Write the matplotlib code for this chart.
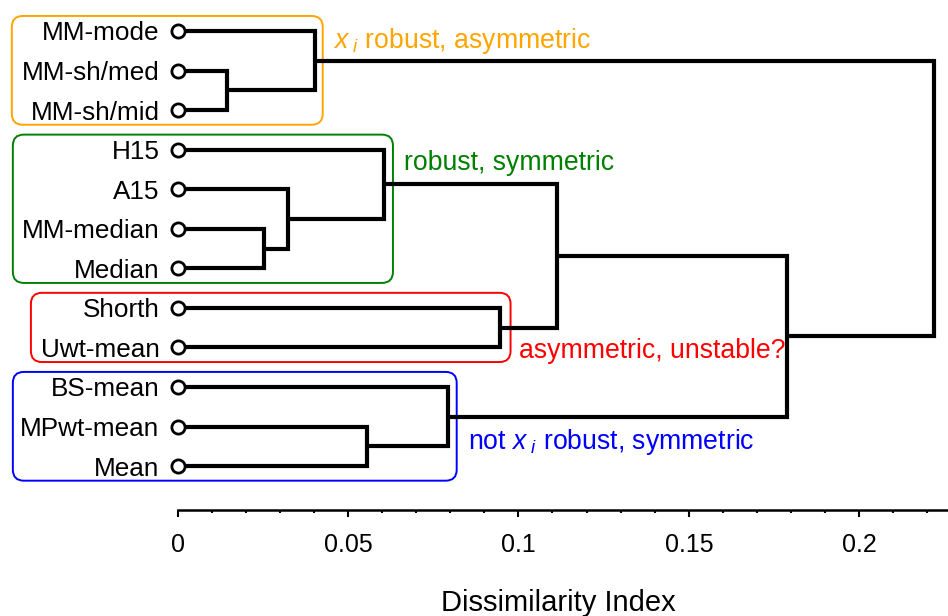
import numpy as np
import matplotlib
matplotlib.use("Agg")
import matplotlib.pyplot as plt
from matplotlib.patches import FancyBboxPatch
from matplotlib.transforms import offset_copy

plt.rcParams.update({
    "font.family": ["Liberation Sans", "DejaVu Sans"],
    "mathtext.fontset": "custom",
    "mathtext.rm": "Liberation Sans",
    "mathtext.it": "Liberation Sans:italic",
})

# leaves, top to bottom
leaves = ["MM-mode", "MM-sh/med", "MM-sh/mid", "H15", "A15", "MM-median",
          "Median", "Shorth", "Uwt-mean", "BS-mean", "MPwt-mean", "Mean"]

# merges: (child a, child b, height); new nodes numbered from len(leaves)
merge_a = [1, 0, 5, 4, 3, 10, 9, 7, 16, 20, 13]
merge_b = [2, 12, 6, 14, 15, 11, 17, 8, 19, 18, 21]
merge_h = [0.0144, 0.0403, 0.0254, 0.0325, 0.0606, 0.0555,
           0.0794, 0.0946, 0.1112, 0.1787, 0.2219]

# groups: first leaf, last leaf, box x-range, label
group_first = [0, 3, 7, 9]
group_last = [2, 6, 8, 11]
group_x0 = [-0.0486, -0.0483, -0.0430, -0.0483]
group_x1 = [0.0426, 0.0632, 0.0977, 0.0819]
group_colors = ["#FFA500", "#008000", "#FF0000", "#0000FF"]
group_labels = [r"$x_{\ i}$ robust, asymmetric", "robust, symmetric",
                "asymmetric, unstable?", r"not $x_{\ i}$ robust, symmetric"]
label_x = [0.0456, 0.0664, 0.1001, 0.0852]
label_y = [0.15, 3.26, 8.02, 10.29]

xticks = [0, 0.05, 0.1, 0.15, 0.2]
xticklabels = ["0", "0.05", "0.1", "0.15", "0.2"]

W, H = 948, 616
fig = plt.figure(figsize=(W / 100, H / 100), dpi=100)
left_px, bottom_px = 177.5, 509.5
ax = fig.add_axes([left_px / W, (H - bottom_px) / H, (W - left_px) / W, bottom_px / H])
xmax = (W - left_px) / 3409
ax.set_xlim(0, xmax)
ax.set_ylim((bottom_px - 31) / 39.55, -31 / 39.55)

# node positions
n = len(leaves)
node_y = list(range(n))
node_h = [0.0] * n
for a, b, h in zip(merge_a, merge_b, merge_h):
    ax.plot([node_h[a], h, h, node_h[b]], [node_y[a], node_y[a], node_y[b], node_y[b]],
            color="black", lw=3, solid_joinstyle="miter", solid_capstyle="butt", zorder=3)
    node_y.append((node_y[a] + node_y[b]) / 2)
    node_h.append(h)

ax.plot(np.zeros(n), np.arange(n), "o", ms=9.5, mfc="white", mec="black", mew=2, zorder=4,
        clip_on=False)

lab_tr = offset_copy(ax.transData, fig=fig, x=-18, y=0, units="dots")
for i, name in enumerate(leaves):
    ax.text(0, i, name, ha="right", va="center_baseline", fontsize=18.8, transform=lab_tr)

# rounded group boxes
px_x = (W - left_px) / xmax
px_y = 39.55
r = 11 / px_x
for f, l, x0, x1, c, txt, tx, ty in zip(group_first, group_last, group_x0, group_x1,
                                          group_colors, group_labels, label_x, label_y):
    y0, y1 = f - 0.38, l + 0.37
    box = FancyBboxPatch((x0, y0), x1 - x0, y1 - y0,
                         boxstyle=f"round,pad=0,rounding_size={r}",
                         mutation_aspect=px_x / px_y, fc="none", ec=c, lw=1.4,
                         clip_on=False, zorder=2)
    ax.add_patch(box)
    ax.text(tx, ty, txt, color=c, fontsize=19.2, ha="left", va="center_baseline")

for s in ["top", "left", "right"]:
    ax.spines[s].set_visible(False)
ax.spines["bottom"].set_linewidth(1.8)
ax.set_yticks([])
ax.set_xticks(xticks)
ax.set_xticklabels(xticklabels, fontsize=18)
ax.set_xticks(np.arange(0, 0.2251, 0.01), minor=True)
ax.tick_params(axis="x", which="major", direction="out", length=5, width=1.5, pad=12)
ax.tick_params(axis="x", which="minor", direction="out", length=2.5, width=1.5)
ax.patch.set_visible(False)

fig.text((W / 2 + 84) / W, 5 / H, "Dissimilarity Index", fontsize=21, ha="center",
         va="baseline")

fig.savefig("out.png", dpi=100)
